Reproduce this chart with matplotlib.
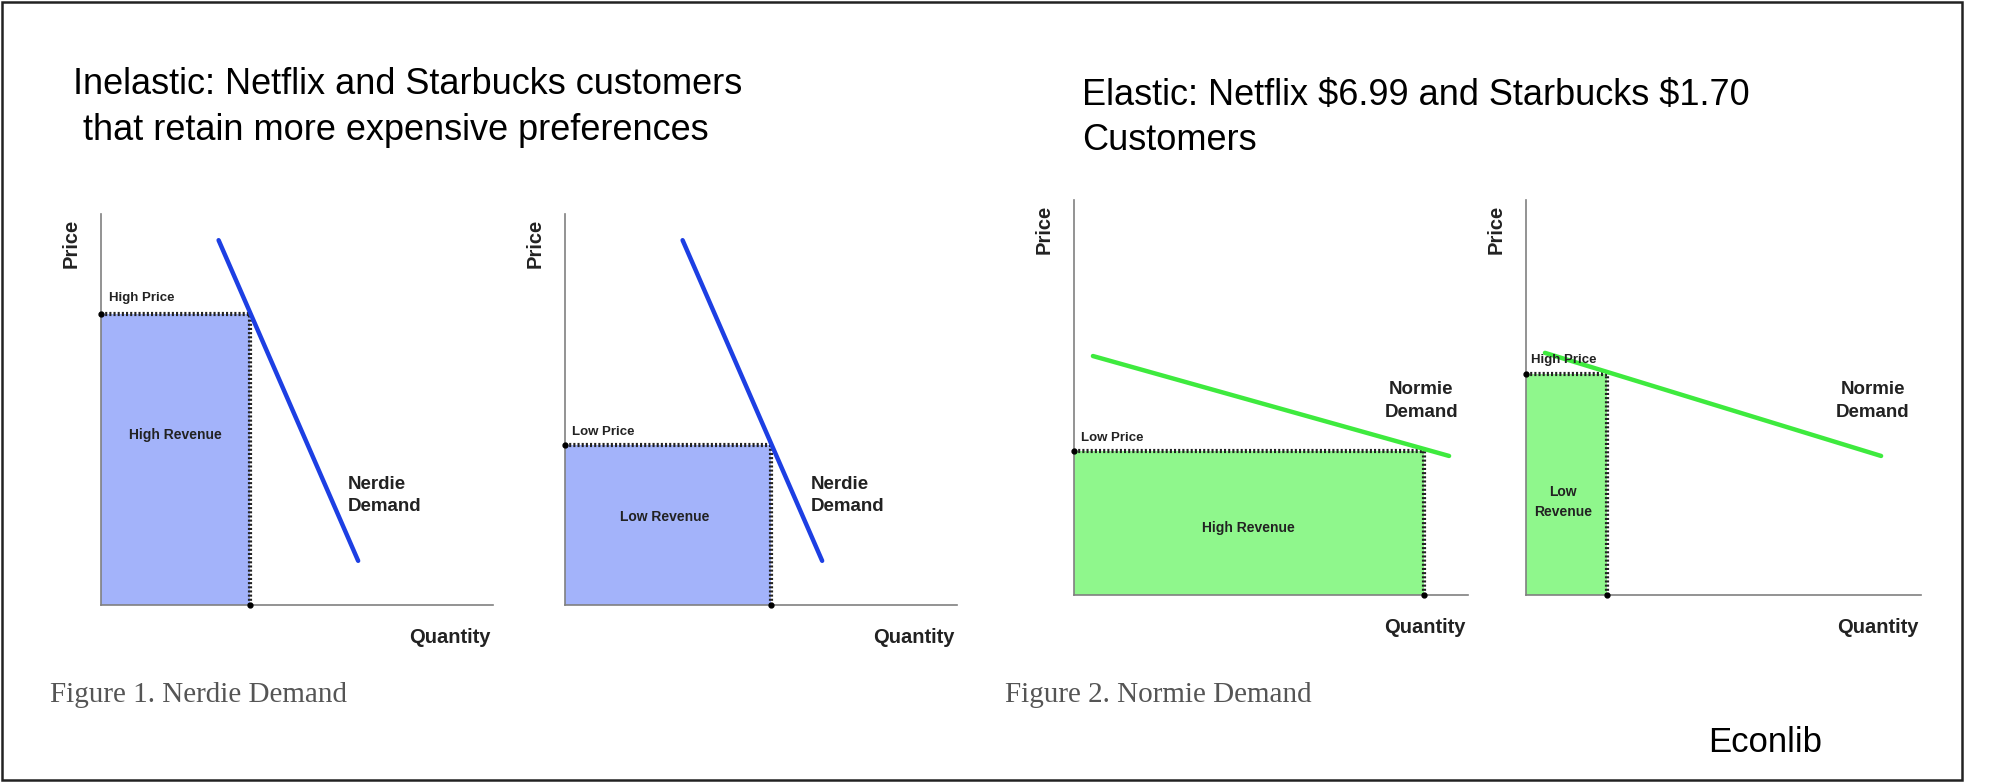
import matplotlib
matplotlib.use('Agg')
from matplotlib import pyplot as plt

W, H = 2004, 782

# demand curves (quantity, price) on a 0-10 scale
nerdie_q = [3.0, 6.56]
nerdie_p = [9.33, 1.13]
normie_q_a = [0.48, 9.52]
normie_p_a = [6.05, 3.52]
normie_q_b = [0.48, 8.99]
normie_p_b = [6.13, 3.52]

price_points = [7.44, 4.09, 3.65, 5.59]
qty_points = [3.80, 5.26, 8.88, 2.05]
price_labels = ['High Price', 'Low Price', 'Low Price', 'High Price']
revenue_labels = ['High Revenue', 'Low Revenue', 'High Revenue', 'Low\nRevenue']
demand_labels = ['Nerdie\nDemand', 'Nerdie\nDemand', 'Normie\nDemand', 'Normie\nDemand']

curves = [(nerdie_q, nerdie_p), (nerdie_q, nerdie_p),
          (normie_q_a, normie_p_a), (normie_q_b, normie_p_b)]

blue = '#1d3fe3'
blue_fill = '#a3b3fa'
green = '#3eea3e'
green_fill = '#8ff78c'

# pixel boxes of each small chart: left, top, right, bottom
boxes = [(101, 214, 493, 605), (565, 214, 957, 605),
         (1074, 200, 1468, 595), (1526, 200, 1921, 595)]
rev_xy = [(1.91, 4.35), (2.55, 2.25), (4.42, 1.70), (0.94, 2.35)]
price_xy = [(0.2, 7.85), (0.18, 4.42), (0.18, 3.97), (0.13, 5.95)]
dem_xy = [(6.3, 2.81, 'left', 1.4), (6.28, 2.81, 'left', 1.4),
          (8.81, 4.91, 'center', 1.5), (8.78, 4.91, 'center', 1.5)]

plt.rcParams['font.family'] = ['Liberation Sans', 'DejaVu Sans']
fig = plt.figure(figsize=(W / 100, H / 100), dpi=100)

for i, (l, t, r, b) in enumerate(boxes):
    ax = fig.add_axes([l / W, 1 - b / H, (r - l) / W, (b - t) / H])
    ax.set_xlim(0, 10)
    ax.set_ylim(0, 10)
    for s in ['top', 'right']:
        ax.spines[s].set_visible(False)
    for s in ['left', 'bottom']:
        ax.spines[s].set_color('#808080')
        ax.spines[s].set_linewidth(1.2)
    ax.set_xticks([])
    ax.set_yticks([])
    ax.patch.set_alpha(0)

    col, fcol = (blue, blue_fill) if i < 2 else (green, green_fill)
    p = price_points[i]
    q = qty_points[i]
    ax.fill_between([0, q], [p, p], 0, color=fcol, lw=0, zorder=1)
    ax.plot([0, q], [p, p], color='#222222', lw=3, ls=(0, (0.5, 0.5)), zorder=3)
    ax.plot([q, q], [0, p], color='#222222', lw=3, ls=(0, (0.5, 0.5)), zorder=3)
    ax.plot([0], [p], 'o', color='k', ms=3.5, clip_on=False, zorder=4)
    ax.plot([q], [0], 'o', color='k', ms=3.5, clip_on=False, zorder=4)
    cq, cp = curves[i]
    ax.plot(cq, cp, color=col, lw=3.2, solid_capstyle='round', zorder=5)

    ax.text(price_xy[i][0], price_xy[i][1], price_labels[i], fontsize=9.5,
            fontweight='bold', color='#222222', ha='left', va='center', zorder=6)
    ax.text(rev_xy[i][0], rev_xy[i][1], revenue_labels[i], fontsize=10,
            fontweight='bold', color='#222222', ha='center', va='center',
            linespacing=1.5, zorder=6)
    dx, dy, ha, ls = dem_xy[i]
    ax.text(dx, dy, demand_labels[i], fontsize=13.5, fontweight='bold',
            color='#222222', ha=ha, va='center', multialignment=ha,
            linespacing=ls, zorder=6)
    ax.text(9.95, -0.82, 'Quantity', fontsize=14.5, fontweight='bold',
            color='#222222', ha='right', va='center', clip_on=False)
    ax.text(-0.75, 9.25, 'Price', fontsize=14.5, fontweight='bold',
            color='#222222', ha='center', va='center', rotation=90,
            clip_on=False)

# titles
fig.text(73 / W, 1 - 94 / H, 'Inelastic: Netflix and Starbucks customers',
         fontsize=26, ha='left', va='baseline')
fig.text(83 / W, 1 - 140 / H, 'that retain more expensive preferences',
         fontsize=26, ha='left', va='baseline')
fig.text(1082 / W, 1 - 105 / H, r'Elastic: Netflix \$6.99 and Starbucks \$1.70',
         fontsize=26, ha='left', va='baseline')
fig.text(1082 / W, 1 - 150 / H, 'Customers', fontsize=26, ha='left', va='baseline')

# captions
fig.text(50 / W, 1 - 702 / H, 'Figure 1. Nerdie Demand', fontsize=21,
         family=['Liberation Serif', 'DejaVu Serif'], color='#555555',
         ha='left', va='baseline')
fig.text(1005 / W, 1 - 702 / H, 'Figure 2. Normie Demand', fontsize=21,
         family=['Liberation Serif', 'DejaVu Serif'], color='#555555',
         ha='left', va='baseline')
fig.text(1708 / W, 1 - 752 / H, 'Econlib', fontsize=25, ha='left', va='baseline')

# frame
fig.patches.append(plt.Rectangle((2 / W, 2 / H), 1960 / W, 778 / H,
                                 transform=fig.transFigure, fill=False,
                                 edgecolor='#222222', lw=1.8))

fig.savefig('out.png', dpi=100)
